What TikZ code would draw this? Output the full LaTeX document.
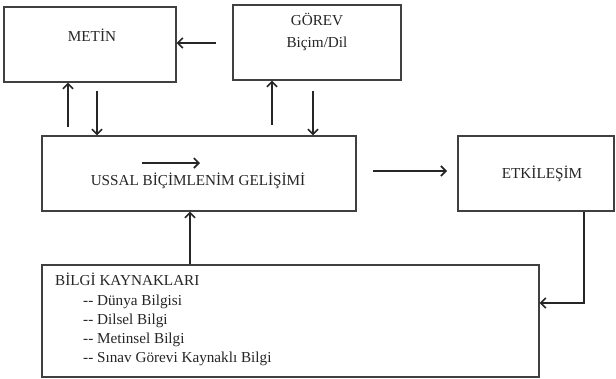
\documentclass[tikz,border=0pt]{standalone}
\usepackage{fontspec}
\setmainfont{Liberation Serif}
\usetikzlibrary{arrows.meta}
\begin{document}
\begin{tikzpicture}[x=1pt,y=-1pt,
  boxst/.style={draw=black!75,line width=1.3pt,inner sep=0pt,rectangle},
  arr/.style={draw=black!85,line width=1.6pt,-{Straight Barb[length=5pt,width=10pt,line width=1.6pt]}},
  lbl/.style={anchor=base,inner sep=0pt,text=black!85,font=\fontsize{15.2}{18}\selectfont},
  lbll/.style={lbl,anchor=base west}]
\useasboundingbox (0,0) rectangle (616,378);
\fill[white] (0,0) rectangle (616,378);
% boxes
\node[boxst,minimum width=172pt,minimum height=75pt] (metin) at (90,44.5) {};
\node[boxst,minimum width=168pt,minimum height=75pt] (gorev) at (317,42.5) {};
\node[boxst,minimum width=314pt,minimum height=75pt] (ussal) at (199,173.5) {};
\node[boxst,minimum width=156pt,minimum height=75pt] (etk) at (536,173.5) {};
\node[boxst,minimum width=497pt,minimum height=112pt] (bilgi) at (290.5,321) {};
% texts
\node[lbl] (tmetin) at (92,41.5) {METİN};
\node[lbl] (tgorev) at (317,25) {GÖREV};
\node[lbl] (tbicim) at (317,47) {Biçim/Dil};
\node[lbl] (tussal) at (198,185) {USSAL BİÇİMLENİM GELİŞİMİ};
\node[lbl] (tetk) at (542,178) {ETKİLEŞİM};
\node[lbll] (tbilgi) at (55,285) {BİLGİ KAYNAKLARI};
\node[lbll] (t1) at (83,305) {{-}{-} Dünya Bilgisi};
\node[lbll] (t2) at (83,324) {{-}{-} Dilsel Bilgi};
\node[lbll] (t3) at (83,343) {{-}{-} Metinsel Bilgi};
\node[lbll] (t4) at (83,362) {{-}{-} Sınav Görevi Kaynaklı Bilgi};
% free ends
\coordinate (gm) at (216,43);
\coordinate (mu) at (68,127);
\coordinate (md) at (97,91);
\coordinate (gu) at (272,125);
\coordinate (gd) at (313,91);
\coordinate (ue1) at (373,171);
\coordinate (ue2) at (447,171);
\coordinate (in1) at (142,163);
\coordinate (in2) at (200,163);
\coordinate (bu) at (190,0);
\coordinate (eb) at (584,303);
% connectors
\draw[arr] (gm) -- (gm -| metin.east);
\draw[arr] (mu) -- (mu |- metin.south);
\draw[arr] (md) -- (md |- ussal.north);
\draw[arr] (gu) -- (gu |- gorev.south);
\draw[arr] (gd) -- (gd |- ussal.north);
\draw[arr] (ue1) -- (ue2);
\draw[arr] (in1) -- (in2);
\draw[arr] (bu |- bilgi.north) -- (bu |- ussal.south);
\draw[arr,line width=1.9pt] (eb |- etk.south) -- (eb) -- (eb -| bilgi.east);
\end{tikzpicture}
\end{document}
